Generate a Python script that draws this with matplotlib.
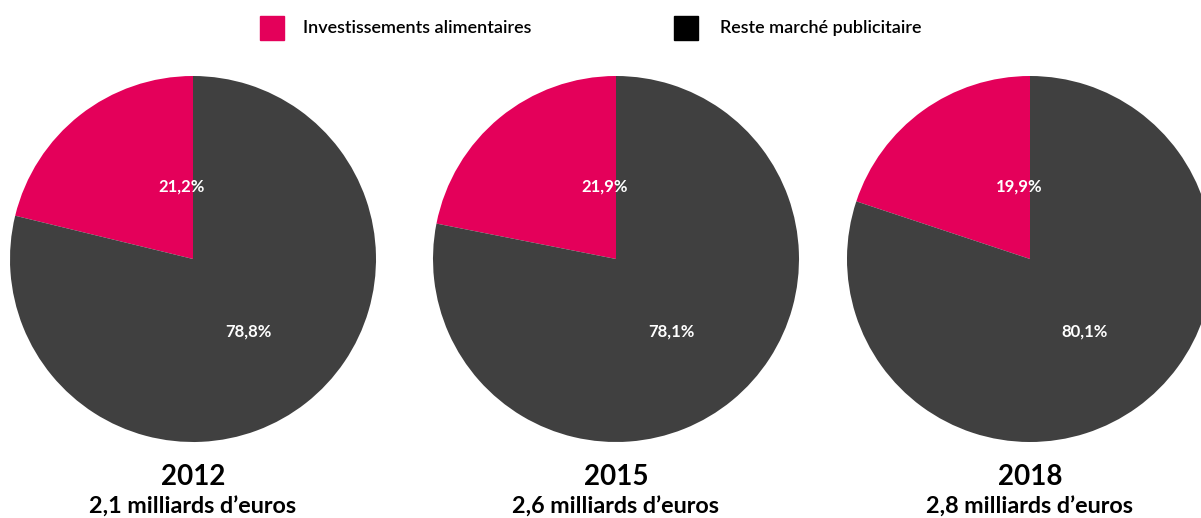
import matplotlib
matplotlib.use('Agg')
import matplotlib.pyplot as plt
from matplotlib.patches import Rectangle

# Données
annees = ['2012', '2015', '2018']
montants = ["2,1 milliards d\u2019euros", "2,6 milliards d\u2019euros", "2,8 milliards d\u2019euros"]
part_alim = [21.2, 21.9, 19.9]
part_reste = [78.8, 78.1, 80.1]
series = ['Investissements alimentaires', 'Reste marché publicitaire']

ROSE = '#E4005A'
GRIS = '#404040'
FONT = ['Lato', 'DejaVu Sans']

centres_x = [193, 616, 1030]
CY = 259
R = 183

fig = plt.figure(figsize=(12.01, 5.18), dpi=100)
ax = fig.add_axes([0, 0, 1, 1])


def fmt(v):
    return f"{v:.1f}%".replace('.', ',')


for i, cx in enumerate(centres_x):
    # axe y inversé : sens horaire en données = sens anti-horaire à l'écran
    ax.pie([part_alim[i], part_reste[i]], colors=[ROSE, GRIS], startangle=-90,
           counterclock=False, center=(cx, CY), radius=R, frame=True,
           wedgeprops=dict(linewidth=0))
    ax.text(cx - 11, CY - 72, fmt(part_alim[i]), color='white', fontsize=12,
            fontweight='bold', family=FONT, ha='center', va='center')
    ax.text(cx + 55, CY + 73, fmt(part_reste[i]), color='white', fontsize=12,
            fontweight='bold', family=FONT, ha='center', va='center')
    ax.text(cx, 477, annees[i], fontsize=20, fontweight='bold', family=FONT,
            ha='center', va='center')
    ax.text(cx, 507, montants[i], fontsize=16.8, fontweight='bold', family=FONT,
            ha='center', va='center')

ax.set_xlim(0, 1201)
ax.set_ylim(518, 0)
ax.set_aspect('auto')
ax.axis('off')

# Légende
ax.add_patch(Rectangle((260, 16), 24, 24, color=ROSE))
ax.text(303, 28, series[0], fontsize=13, family=FONT, fontweight='semibold',
        va='center', ha='left')
ax.add_patch(Rectangle((674, 16), 24, 24, color='black'))
ax.text(720, 28, series[1], fontsize=13, family=FONT, fontweight='semibold',
        va='center', ha='left')

fig.savefig('out.png', dpi=100, facecolor='white')
